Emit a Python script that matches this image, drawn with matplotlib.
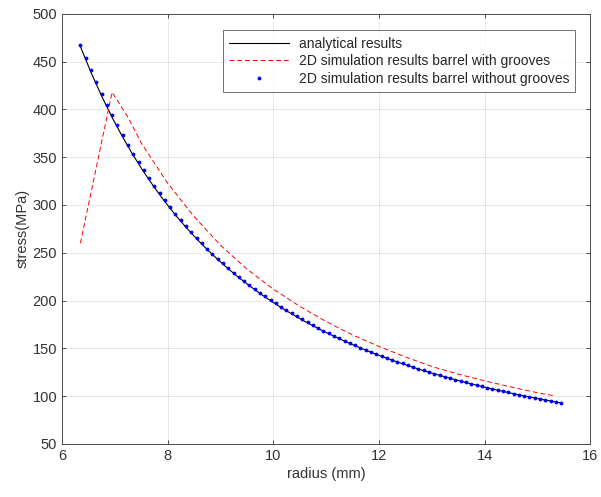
import numpy as np
import matplotlib
matplotlib.use("Agg")
import matplotlib.pyplot as plt

plt.rcParams['font.family'] = ['Liberation Sans', 'DejaVu Sans']

# analytical results (black solid line)
r_ana = [6.35, 6.55, 6.75, 6.95, 7.15, 7.35, 7.55, 7.75, 7.95, 8.15, 8.35, 8.55,
         8.75, 8.95, 9.15, 9.35, 9.55, 9.75, 9.95, 10.15, 10.35, 10.55, 10.75,
         10.95, 11.15, 11.35, 11.55, 11.75, 11.95, 12.15, 12.35, 12.55, 12.75,
         12.95, 13.15, 13.35, 13.55, 13.75, 13.95, 14.15, 14.35, 14.55, 14.75,
         14.95, 15.15, 15.35, 15.45]
s_ana = [465.9, 438.9, 414.3, 391.7, 371.1, 352.0, 334.5, 318.4, 303.4, 289.5,
         276.6, 264.6, 253.4, 243.0, 233.2, 224.0, 215.5, 207.4, 199.8, 192.7,
         186.0, 179.6, 173.6, 168.0, 162.6, 157.5, 152.7, 148.1, 143.7, 139.6,
         135.7, 131.9, 128.3, 124.9, 121.7, 118.6, 115.6, 112.7, 110.0, 107.4,
         104.9, 102.5, 100.2, 98.0, 95.9, 93.8, 92.8]

# 2D simulation, barrel with grooves (red dashed)
r_grv = [6.35, 6.95, 7.25, 7.5, 8.0, 8.5, 9.0, 9.5, 10.0, 10.5, 11.0, 11.5,
         12.0, 12.5, 13.0, 13.5, 14.0, 14.5, 15.0, 15.35]
s_grv = [260, 418, 392, 365, 323, 288, 258, 233, 212, 194, 178, 164,
         152, 141, 131, 123, 116, 109.5, 103.5, 100]

# 2D simulation, barrel without grooves (blue dots)
r_nog = [6.35, 6.45, 6.55, 6.65, 6.75, 6.85, 6.95, 7.05, 7.15, 7.25, 7.35, 7.45,
         7.55, 7.65, 7.75, 7.85, 7.95, 8.05, 8.15, 8.25, 8.35, 8.45, 8.55, 8.65,
         8.75, 8.85, 8.95, 9.05, 9.15, 9.25, 9.35, 9.45, 9.55, 9.65, 9.75, 9.85,
         9.95, 10.05, 10.15, 10.25, 10.35, 10.45, 10.55, 10.65, 10.75, 10.85,
         10.95, 11.05, 11.15, 11.25, 11.35, 11.45, 11.55, 11.65, 11.75, 11.85,
         11.95, 12.05, 12.15, 12.25, 12.35, 12.45, 12.55, 12.65, 12.75, 12.85,
         12.95, 13.05, 13.15, 13.25, 13.35, 13.45, 13.55, 13.65, 13.75, 13.85,
         13.95, 14.05, 14.15, 14.25, 14.35, 14.45, 14.55, 14.65, 14.75, 14.85,
         14.95, 15.05, 15.15, 15.25, 15.35, 15.45]
s_nog = [467.5, 454.0, 441.0, 428.5, 416.5, 405.0, 394.0, 383.3, 373.0, 363.2,
         353.8, 344.8, 336.1, 327.8, 319.8, 312.1, 304.7, 297.5, 290.7, 284.0,
         277.7, 271.5, 265.6, 259.9, 254.3, 249.0, 243.8, 238.8, 234.0, 229.3,
         224.8, 220.4, 216.2, 212.1, 208.1, 204.3, 200.5, 196.9, 193.4, 190.0,
         186.6, 183.4, 180.3, 177.2, 174.2, 171.4, 168.5, 165.8, 163.1, 160.5,
         158.0, 155.5, 153.1, 150.8, 148.5, 146.3, 144.1, 142.0, 140.0, 138.0,
         136.0, 134.1, 132.2, 130.4, 128.6, 126.9, 125.2, 123.5, 121.9, 120.3,
         118.8, 117.3, 115.8, 114.3, 112.9, 111.5, 110.2, 108.9, 107.6, 106.3,
         105.1, 103.8, 102.6, 101.5, 100.3, 99.2, 98.1, 97.0, 96.0, 94.9,
         93.9, 92.9]

fig = plt.figure(figsize=(6.01, 4.97), dpi=100)
ax = fig.add_axes([0.103, 0.107, 0.879, 0.865])

ax.plot(r_ana, s_ana, color='k', lw=0.8, label='analytical results')
ax.plot(r_grv, s_grv, color='r', lw=0.7, ls=(0, (5, 3)),
        label='2D simulation results barrel with grooves')
ax.plot(r_nog, s_nog, ls='none', marker='.', ms=3.5, color='b',
        label='2D simulation results barrel without grooves')

ax.set_xlim(6, 16)
ax.set_ylim(50, 500)
ax.set_xticks(np.arange(6, 17, 2))
ax.set_yticks(np.arange(50, 501, 50))
ax.grid(True, color='0.15', alpha=0.12, lw=0.6)
ax.tick_params(direction='in', top=True, right=True, length=3, width=0.6,
               labelsize=10.5, colors='0.2')
for sp in ax.spines.values():
    sp.set_color('0.3')
    sp.set_linewidth(0.7)

ax.set_xlabel('radius (mm)', fontsize=10.5, color='0.2', labelpad=3)
ax.set_ylabel('stress(MPa)', fontsize=10.5, color='0.2', labelpad=2)

leg = ax.legend(loc='upper right', bbox_to_anchor=(0.977, 0.968), fontsize=10,
                frameon=True, fancybox=False, edgecolor='0.3',
                handlelength=4.3, borderpad=0.45, labelspacing=0.25,
                handletextpad=0.7, borderaxespad=0.2)
leg.get_frame().set_linewidth(0.7)
for t in leg.get_texts():
    t.set_color('0.15')

fig.savefig('out.png', dpi=100)
